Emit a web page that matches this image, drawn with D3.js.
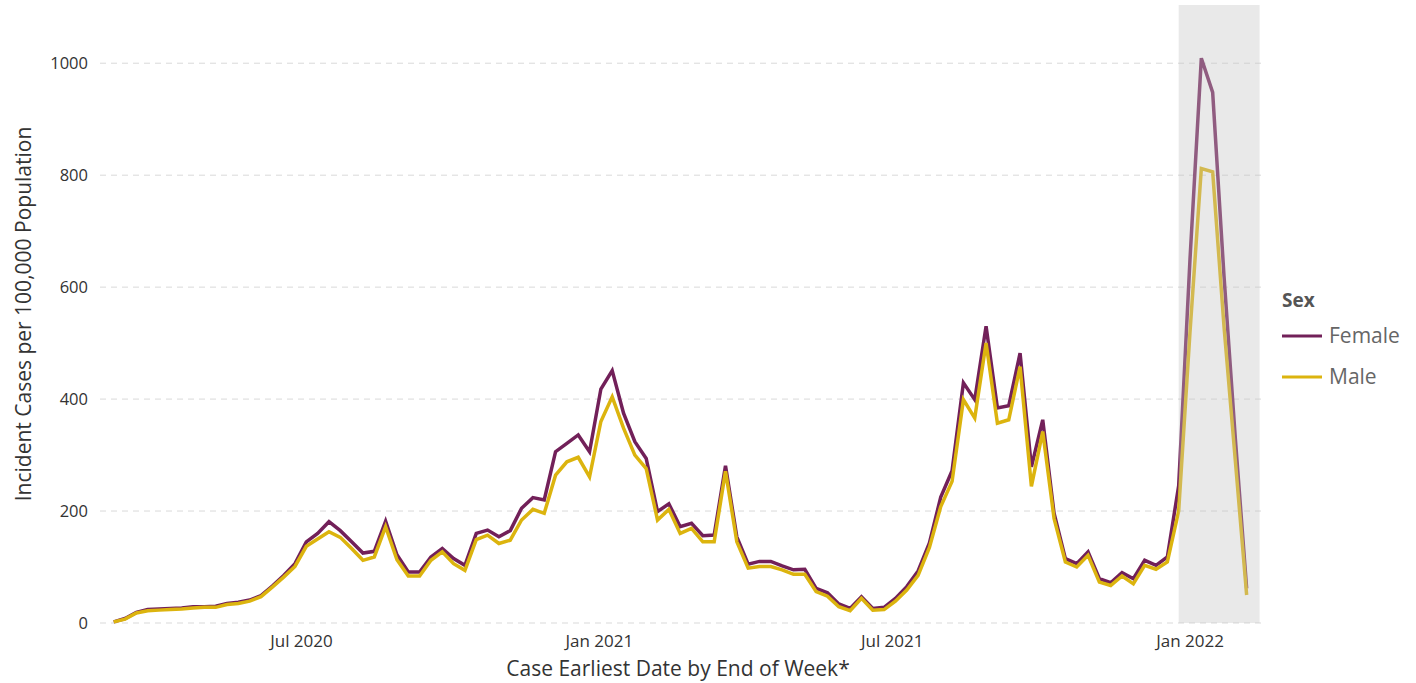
<!DOCTYPE html>
<html>
<head>
<meta charset="utf-8">
<script src="https://cdn.jsdelivr.net/npm/d3@7"></script>
<style>
  body { margin: 0; background: #fff; }
  svg text { font-family: "Open Sans", sans-serif; }
</style>
</head>
<body>
<svg id="chart" width="1416" height="683"></svg>
<script>
// ─── data ─────────────────────────────────────────────────────────
// weekly incident cases per 100,000, weeks ending Saturday
const firstWeek = "2020-03-07";
const lastWeek  = "2022-02-05";

const female = [
    2, 8, 19, 24, 25, 26, 27, 29, 29, 30,
    35, 37, 41, 49, 66, 85, 106, 145, 160, 181,
    165, 145, 125, 128, 182, 122, 91, 91, 118, 133,
    115, 103, 160, 166, 154, 165, 205, 224, 220, 306,
    321, 336, 306, 418, 451, 375, 324, 294, 199, 213,
    172, 178, 156, 157, 281, 154, 105, 110, 110, 102,
    95, 96, 62, 54, 34, 26, 47, 26, 28, 44,
    65, 93, 143, 225, 272, 429, 399, 530, 384, 388,
    482, 279, 363, 196, 115, 106, 127, 79, 72, 90,
    79, 112, 103, 118, 245, 650, 1009, 948, 620, 330,
    62
];

const male = [
    2, 7, 18, 22, 23, 24, 25, 27, 28, 28,
    33, 35, 39, 47, 64, 82, 101, 137, 150, 163,
    153, 133, 112, 118, 172, 113, 84, 84, 112, 127,
    106, 94, 149, 157, 142, 148, 184, 203, 196, 264,
    288, 296, 261, 360, 404, 348, 300, 276, 184, 203,
    160, 169, 145, 145, 271, 145, 98, 101, 101, 95,
    87, 87, 56, 48, 29, 22, 44, 23, 24, 39,
    59, 85, 135, 208, 253, 399, 366, 500, 357, 363,
    458, 244, 342, 187, 109, 100, 121, 73, 67, 84,
    70, 103, 96, 109, 200, 520, 812, 806, 530, 290,
    50
];

const yTicks = [0, 200, 400, 600, 800, 1000];
const xTicks = ["2020-07-01", "2021-01-01", "2021-07-01", "2022-01-01"];
// incomplete-data period highlighted in grey
const shadeRange = ["2021-12-25", "2022-02-13"];

// ─── colours ─────────────────────────────────────────────────────
const femaleColor = "#722059";
const maleColor   = "#dcb40e";

// ─── setup ───────────────────────────────────────────────────────
const parse = d3.utcParse("%Y-%m-%d");
const weeks = d3.utcSaturday.range(parse(firstWeek), d3.utcDay.offset(parse(lastWeek), 1));

const series = [
    { name: "Female", color: femaleColor, values: female },
    { name: "Male",   color: maleColor,   values: male }
];

const svg = d3.select("#chart");

const x = d3.scaleUtc()
    .domain([parse("2020-03-01"), parse("2022-02-13")])
    .range([104, 1259.6]);

const y = d3.scaleLinear()
    .domain([0, 1104])
    .range([623, 5]);

// gridlines
svg.append("g")
    .selectAll("line")
    .data(yTicks)
    .join("line")
    .attr("x1", 100)
    .attr("x2", 1262)
    .attr("y1", d => y(d))
    .attr("y2", d => y(d))
    .attr("stroke", "#d9d9d9")
    .attr("stroke-width", 1)
    .attr("stroke-dasharray", "6,5");

// y tick labels
svg.append("g")
    .selectAll("text")
    .data(yTicks)
    .join("text")
    .attr("x", 88)
    .attr("y", d => y(d))
    .attr("dy", "0.35em")
    .attr("text-anchor", "end")
    .style("font-size", "16.5px")
    .style("fill", "#333")
    .text(d => d);

// x tick labels
const fmt = d3.utcFormat("%b %Y");
svg.append("g")
    .selectAll("text")
    .data(xTicks.map(parse))
    .join("text")
    .attr("x", d => x(d))
    .attr("y", 647)
    .attr("text-anchor", "middle")
    .style("font-size", "17px")
    .style("fill", "#333")
    .text(d => fmt(d));

// lines
const line = d3.line()
    .x((d, i) => x(weeks[i]))
    .y(d => y(d));

svg.append("g")
    .selectAll("path")
    .data(series)
    .join("path")
    .attr("d", d => line(d.values))
    .attr("fill", "none")
    .attr("stroke", d => d.color)
    .attr("stroke-width", 3.5)
    .attr("stroke-linejoin", "miter");

// shaded period sits on top and washes out the lines beneath
svg.append("rect")
    .attr("x", x(parse(shadeRange[0])))
    .attr("width", x(parse(shadeRange[1])) - x(parse(shadeRange[0])))
    .attr("y", 5)
    .attr("height", 623 - 5)
    .attr("fill", "#c3c3c3")
    .attr("opacity", 0.37);

// axis titles
svg.append("text")
    .attr("transform", "translate(31, 314) rotate(-90)")
    .attr("text-anchor", "middle")
    .style("font-size", "21px")
    .style("fill", "#333")
    .text("Incident Cases per 100,000 Population");

svg.append("text")
    .attr("x", 678)
    .attr("y", 676)
    .attr("text-anchor", "middle")
    .style("font-size", "21px")
    .style("fill", "#333")
    .text("Case Earliest Date by End of Week*");

// ─── legend ──────────────────────────────────────────────────────
const legend = svg.append("g").attr("transform", "translate(1282, 0)");

legend.append("text")
    .attr("x", 0)
    .attr("y", 307)
    .style("font-size", "19px")
    .style("font-weight", "700")
    .style("fill", "#555")
    .text("Sex");

series.forEach((s, i) => {
    const g = legend.append("g")
        .attr("transform", `translate(0, ${336 + i * 41})`);
    g.append("line")
        .attr("x1", 0)
        .attr("x2", 40)
        .attr("stroke", s.color)
        .attr("stroke-width", 3);
    g.append("text")
        .attr("x", 47)
        .attr("dy", "0.35em")
        .style("font-size", "21px")
        .style("fill", "#666")
        .text(s.name);
});
</script>
</body>
</html>
